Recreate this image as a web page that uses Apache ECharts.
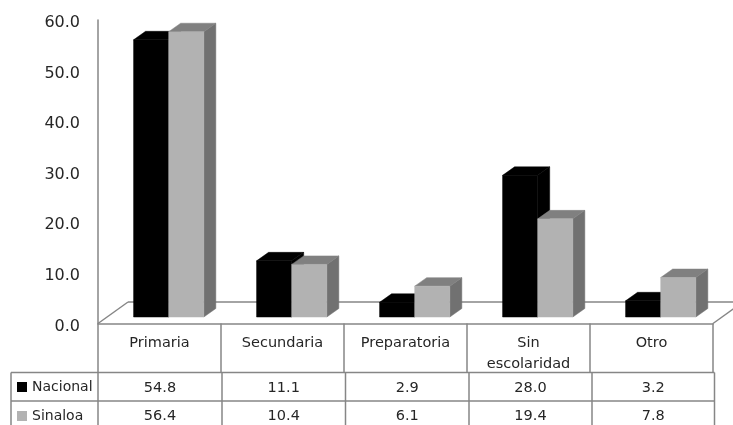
<!DOCTYPE html>
<html>
<head>
<meta charset="utf-8">
<style>html,body{margin:0;padding:0;background:#fff}#chart{width:733px;height:425px}</style>
<script src="https://cdn.jsdelivr.net/npm/echarts@6/dist/echarts.min.js"></script>
</head>
<body>
<div id="chart"></div>
<script>
const categories = ['Primaria', 'Secundaria', 'Preparatoria', 'Sin\nescolaridad', 'Otro'];
const nacional = [54.8, 11.1, 2.9, 28.0, 3.2];
const sinaloa = [56.4, 10.4, 6.1, 19.4, 7.8];
const yTicks = { min: 0, max: 60, interval: 10 };

// Plot frame and pseudo-3D projection
const plot = { left: 98, right: 713, top: 20, bottom: 323.5 };
const depth = { dx: 12, dy: 8.5 };        // box depth
const floorShift = { dx: 9.2, dy: -6.5 }; // where boxes sit on the floor
const floorDepth = { dx: 30, dy: 21.5 };
const rows = { head: 372.5, first: 401, end: 425, left: 11 };
const tableCols = [98, 222, 345.5, 469, 592, 714.5];
const lineColor = '#868686';
const textColor = '#262626';
const font = '"DejaVu Sans", sans-serif';

function boxRenderer(seriesIdx, colors) {
  const face = fill => ({ fill, stroke: fill, lineWidth: 0.5 });
  return function (params, api) {
    const cat = api.value(0);
    const base = api.coord([cat, 0]);
    const top = api.coord([cat, api.value(1)]);
    const band = api.size([1, 0])[0];
    const w = band * 0.2855;
    const x0 = base[0] + floorShift.dx - w + seriesIdx * w;
    const x1 = x0 + w;
    const y0 = base[1] + floorShift.dy;
    const y1 = top[1] + floorShift.dy;
    const d = depth;
    return {
      type: 'group',
      children: [
        { type: 'polygon', shape: { points: [[x1, y0], [x1 + d.dx, y0 - d.dy], [x1 + d.dx, y1 - d.dy], [x1, y1]] }, style: face(colors.side) },
        { type: 'polygon', shape: { points: [[x0, y1], [x0 + d.dx, y1 - d.dy], [x1 + d.dx, y1 - d.dy], [x1, y1]] }, style: face(colors.top) },
        { type: 'rect', shape: { x: x0, y: y1, width: w, height: y0 - y1 }, style: face(colors.front) }
      ]
    };
  };
}

function boxSeries(name, values, idx, colors) {
  return {
    name, type: 'custom', coordinateSystem: 'cartesian2d', clip: false,
    itemStyle: { color: colors.front },
    data: values.map((v, i) => [i, v]),
    encode: { x: 0, y: 1 },
    renderItem: boxRenderer(idx, colors),
    z: 5
  };
}

const segment = (x1, y1, x2, y2) => ({
  type: 'line', shape: { x1, y1, x2, y2 }, style: { stroke: lineColor, lineWidth: 1.5, fill: null }
});

// Floor outline, drawn under the boxes
const floorBack = plot.bottom - floorDepth.dy;
const floorSeries = {
  type: 'custom', coordinateSystem: 'cartesian2d', clip: false, silent: true, z: 1,
  data: [[0, 0]],
  encode: { x: 0, y: 1 },
  renderItem: () => ({
    type: 'group',
    children: [
      segment(plot.left, plot.bottom, plot.left + floorDepth.dx, floorBack),
      segment(plot.left + floorDepth.dx, floorBack, 733, floorBack),
      segment(plot.right, plot.bottom, plot.right + floorDepth.dx, floorBack)
    ]
  })
};

// Value rows of the data table
const graphics = [
  segment(rows.left, rows.head, tableCols[5], rows.head),
  segment(rows.left, rows.first, tableCols[5], rows.first),
  segment(rows.left, rows.head, rows.left, rows.end)
];
tableCols.forEach(x => graphics.push(segment(x, rows.head, x, rows.end)));

const cell = (text, i, y) => ({
  type: 'text', x: (tableCols[i] + tableCols[i + 1]) / 2, y,
  style: { text, fill: textColor, font: '14.5px ' + font, textAlign: 'center', textVerticalAlign: 'middle' }
});
nacional.forEach((v, i) => graphics.push(cell(v.toFixed(1), i, 388.2)));
sinaloa.forEach((v, i) => graphics.push(cell(v.toFixed(1), i, 416)));

const chart = echarts.init(document.getElementById('chart'), null, { renderer: 'canvas' });
chart.setOption({
  animation: false,
  backgroundColor: '#ffffff',
  grid: { left: plot.left, top: plot.top, width: plot.right - plot.left, height: plot.bottom - plot.top },
  legend: {
    orient: 'vertical', left: 17, top: 380, itemWidth: 10, itemHeight: 10, itemGap: 15,
    padding: 0, icon: 'rect',
    textStyle: { color: textColor, fontFamily: font, fontSize: 14 },
    data: ['Nacional', 'Sinaloa']
  },
  xAxis: {
    type: 'category', data: categories,
    axisLine: { lineStyle: { color: lineColor, width: 1.5 } },
    axisTick: { show: true, length: 49, lineStyle: { color: lineColor, width: 1.5 } },
    axisLabel: { color: textColor, fontFamily: font, fontSize: 14.5, margin: 9, lineHeight: 21, verticalAlign: 'top' }
  },
  yAxis: {
    type: 'value', min: yTicks.min, max: yTicks.max, interval: yTicks.interval,
    splitLine: { show: false },
    axisLine: { show: true, lineStyle: { color: lineColor, width: 1.5 } },
    axisTick: { show: false },
    axisLabel: {
      color: textColor, fontFamily: font, fontSize: 16, margin: 18,
      verticalAlign: 'top', lineHeight: 6,
      formatter: v => v.toFixed(1)
    }
  },
  graphic: { elements: graphics },
  series: [
    floorSeries,
    boxSeries('Nacional', nacional, 0, { front: '#000000', top: '#000000', side: '#000000' }),
    boxSeries('Sinaloa', sinaloa, 1, { front: '#B2B2B2', top: '#808080', side: '#717171' })
  ]
});
</script>
</body>
</html>
